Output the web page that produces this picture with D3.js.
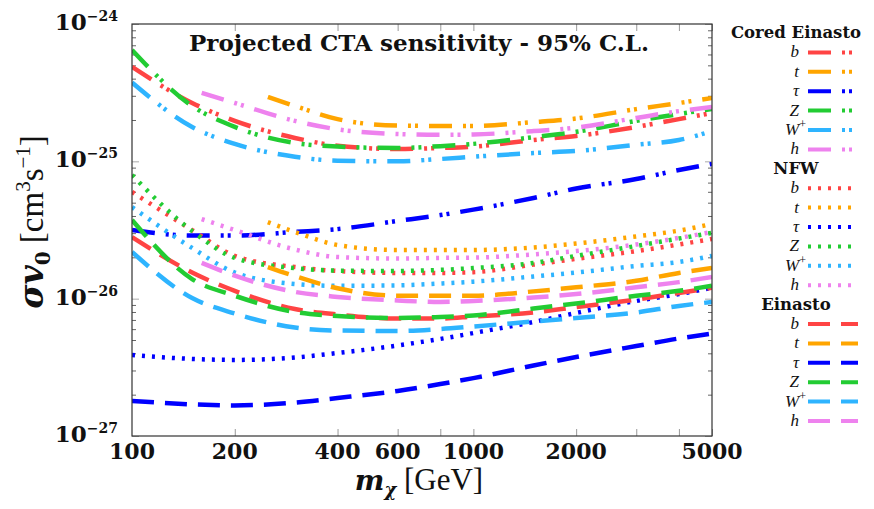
<!DOCTYPE html>
<html>
<head>
<meta charset="utf-8">
<script src="https://cdn.jsdelivr.net/npm/d3@7"></script>
<style>
  body { margin: 0; background: #fff; }
  svg text { font-family: "DejaVu Serif", "Liberation Serif", serif; fill: #111; }
  svg .reg { font-family: "Liberation Serif", "DejaVu Serif", serif; }
</style>
</head>
<body>
<script>

// masses (GeV) the curves were read at
const masses  = [100, 150, 200, 300, 400, 600, 800, 1000, 1500, 2000, 3000, 4000, 5000];
const massesT = [250, 300, 400, 600, 800, 1000, 1500, 2000, 3000, 4000, 5000]; // top channel
const massesH = [160, 200, 300, 400, 600, 800, 1000, 1500, 2000, 3000, 4000, 5000]; // higgs channel

// cored Einasto, <sigma v> in cm^3 s^-1
const coredB   = [4.87e-25, 2.66e-25, 1.97e-25, 1.48e-25, 1.30e-25, 1.23e-25, 1.25e-25, 1.28e-25, 1.43e-25, 1.53e-25, 1.78e-25, 2.03e-25, 2.25e-25];
const coredT   = [2.94e-25, 2.53e-25, 2.03e-25, 1.82e-25, 1.81e-25, 1.81e-25, 1.93e-25, 2.05e-25, 2.40e-25, 2.66e-25, 2.89e-25];
const coredTau = [3.16e-26, 2.88e-26, 2.88e-26, 3.06e-26, 3.21e-26, 3.68e-26, 4.06e-26, 4.45e-26, 5.41e-26, 6.34e-26, 7.43e-26, 8.65e-26, 9.57e-26];
const coredZ   = [6.47e-25, 2.53e-25, 1.78e-25, 1.36e-25, 1.28e-25, 1.25e-25, 1.29e-25, 1.34e-25, 1.50e-25, 1.64e-25, 1.97e-25, 2.21e-25, 2.41e-25];
const coredW   = [3.75e-25, 1.78e-25, 1.34e-25, 1.08e-25, 1.01e-25, 1.00e-25, 1.04e-25, 1.08e-25, 1.15e-25, 1.19e-25, 1.32e-25, 1.43e-25, 1.66e-25];
const coredH   = [3.15e-25, 2.66e-25, 1.97e-25, 1.71e-25, 1.58e-25, 1.56e-25, 1.57e-25, 1.66e-25, 1.76e-25, 2.07e-25, 2.32e-25, 2.49e-25];

// NFW
const nfwB   = [5.98e-26, 3.16e-26, 2.05e-26, 1.70e-26, 1.59e-26, 1.54e-26, 1.54e-26, 1.56e-26, 1.77e-26, 1.95e-26, 2.22e-26, 2.48e-26, 2.72e-26];
const nfwT   = [3.61e-26, 3.06e-26, 2.46e-26, 2.26e-26, 2.26e-26, 2.26e-26, 2.36e-26, 2.52e-26, 2.84e-26, 3.13e-26, 3.50e-26];
const nfwTau = [3.89e-27, 3.64e-27, 3.58e-27, 3.73e-27, 4.02e-27, 4.56e-27, 5.09e-27, 5.62e-27, 6.76e-27, 7.87e-27, 9.62e-27, 1.08e-26, 1.20e-26];
const nfwZ   = [7.94e-26, 3.11e-26, 1.98e-26, 1.67e-26, 1.60e-26, 1.59e-26, 1.62e-26, 1.67e-26, 1.82e-26, 2.05e-26, 2.42e-26, 2.74e-26, 3.01e-26];
const nfwW   = [4.64e-26, 2.34e-26, 1.55e-26, 1.28e-26, 1.24e-26, 1.25e-26, 1.29e-26, 1.33e-26, 1.45e-26, 1.55e-26, 1.73e-26, 1.85e-26, 2.05e-26];
const nfwH   = [3.80e-26, 3.16e-26, 2.28e-26, 2.01e-26, 1.96e-26, 1.98e-26, 1.99e-26, 2.10e-26, 2.22e-26, 2.48e-26, 2.77e-26, 3.06e-26];

// Einasto
const einB   = [2.81e-26, 1.55e-26, 1.14e-26, 8.41e-27, 7.67e-27, 7.16e-27, 7.16e-27, 7.41e-27, 7.93e-27, 8.69e-27, 9.86e-27, 1.10e-26, 1.20e-26];
const einT   = [1.70e-26, 1.46e-26, 1.19e-26, 1.05e-26, 1.05e-26, 1.05e-26, 1.13e-26, 1.21e-26, 1.35e-26, 1.54e-26, 1.67e-26];
const einTau = [1.80e-27, 1.70e-27, 1.67e-27, 1.75e-27, 1.89e-27, 2.13e-27, 2.39e-27, 2.64e-27, 3.26e-27, 3.76e-27, 4.52e-27, 5.13e-27, 5.57e-27];
const einZ   = [3.74e-26, 1.39e-26, 1.05e-26, 8.00e-27, 7.48e-27, 7.23e-27, 7.36e-27, 7.54e-27, 8.48e-27, 9.22e-27, 1.05e-26, 1.14e-26, 1.24e-26];
const einW   = [2.19e-26, 1.01e-26, 7.79e-27, 6.16e-27, 5.86e-27, 5.82e-27, 6.01e-27, 6.27e-27, 6.82e-27, 7.23e-27, 7.93e-27, 8.85e-27, 9.46e-27];
const einH   = [1.82e-26, 1.47e-26, 1.12e-26, 1.03e-26, 9.70e-27, 9.46e-27, 9.62e-27, 1.02e-26, 1.08e-26, 1.21e-26, 1.32e-26, 1.44e-26];

const channels  = ["b", "t", "τ", "Z", "W", "h"];
const chanSup   = ["", "", "", "", "+", ""];
const chanColor = ["#ff4444", "#ffa500", "#0000ff", "#22cc33", "#2eb4ff", "#ee82ee"];
const chanMass  = [masses, massesT, masses, masses, masses, massesH];

const profiles    = ["Cored Einasto", "NFW", "Einasto"];
const profileDash = ["23,11,3,4,3,11", "3,7", "22,11"];
const profileData = [
  [coredB, coredT, coredTau, coredZ, coredW, coredH],
  [nfwB, nfwT, nfwTau, nfwZ, nfwW, nfwH],
  [einB, einT, einTau, einZ, einW, einH]
];

const xTickVals  = [200, 400, 600, 800, 1000, 2000, 3000, 4000, 5000];
const xLabelVals = [100, 200, 400, 600, 1000, 2000, 5000];
const yDecades   = [-27, -26, -25, -24];

const width = 874, height = 509;
const plot = {left: 132, right: 712, top: 24, bottom: 436};

const svg = d3.select("body").append("svg")
    .attr("width", width)
    .attr("height", height);

const x = d3.scaleLog().domain([100, 5000]).range([plot.left, plot.right]);
const y = d3.scaleLog().domain([1e-27, 1e-24]).range([plot.bottom, plot.top]);

svg.append("defs").append("clipPath").attr("id", "clip")
  .append("rect")
    .attr("x", plot.left).attr("y", plot.top)
    .attr("width", plot.right - plot.left).attr("height", plot.bottom - plot.top);

// minor y ticks 2..9 x 10^n
const yMinor = [];
yDecades.slice(0, 3).forEach(e => { for (let k = 2; k <= 9; k++) yMinor.push(k * Math.pow(10, e)); });
const yMajor = yDecades.map(e => Math.pow(10, e));

function tickStyle(g, col) {
  g.select(".domain").remove();
  g.selectAll(".tick line").attr("stroke", col).attr("stroke-width", 1);
  g.selectAll(".tick text").remove();
}

svg.append("g").attr("transform", `translate(${plot.left},0)`)
  .call(d3.axisLeft(y).tickValues(yMinor).tickSize(-4).tickFormat(""))
  .call(g => tickStyle(g, "#666"));
svg.append("g").attr("transform", `translate(${plot.left},0)`)
  .call(d3.axisLeft(y).tickValues(yMajor).tickSize(-7).tickFormat(""))
  .call(g => tickStyle(g, "#aaa"));
svg.append("g").attr("transform", `translate(${plot.right},0)`)
  .call(d3.axisRight(y).tickValues(yMinor).tickSize(-4).tickFormat(""))
  .call(g => tickStyle(g, "#666"));
svg.append("g").attr("transform", `translate(${plot.right},0)`)
  .call(d3.axisRight(y).tickValues(yMajor).tickSize(-7).tickFormat(""))
  .call(g => tickStyle(g, "#aaa"));
svg.append("g").attr("transform", `translate(0,${plot.bottom})`)
  .call(d3.axisBottom(x).tickValues(xTickVals).tickSize(-7).tickFormat(""))
  .call(g => tickStyle(g, "#999"));
svg.append("g").attr("transform", `translate(0,${plot.top})`)
  .call(d3.axisTop(x).tickValues(xTickVals).tickSize(-7).tickFormat(""))
  .call(g => tickStyle(g, "#999"));

// curves
const line = d3.line()
    .x(d => x(d[0]))
    .y(d => y(d[1]))
    .curve(d3.curveMonotoneX);

const curves = svg.append("g").attr("clip-path", "url(#clip)");
profileData.forEach((set, p) => {
  set.forEach((vals, c) => {
    const pts = chanMass[c].map((m, i) => [m, vals[i]]);
    curves.append("path")
      .attr("d", line(pts))
      .attr("fill", "none")
      .attr("stroke", chanColor[c])
      .attr("stroke-width", 4.5)
      .attr("stroke-dasharray", profileDash[p]);
  });
});

// frame
svg.append("rect")
  .attr("x", plot.left).attr("y", plot.top)
  .attr("width", plot.right - plot.left).attr("height", plot.bottom - plot.top)
  .attr("fill", "none").attr("stroke", "#333").attr("stroke-width", 1.2);

// tick labels
svg.append("g").selectAll("text")
  .data(xLabelVals)
  .join("text")
    .attr("x", d => x(d))
    .attr("y", 459)
    .attr("text-anchor", "middle")
    .attr("font-size", 22)
    .attr("font-weight", "bold")
    .text(d => d);

const yl = svg.append("g").selectAll("text")
  .data(yDecades)
  .join("text")
    .attr("x", 118)
    .attr("y", d => y(Math.pow(10, d)) + 6)
    .attr("text-anchor", "end")
    .attr("font-weight", "bold");
yl.append("tspan").attr("font-size", 23).text("10");
yl.append("tspan").attr("font-size", 14).attr("dy", -9).text(d => "−" + (-d));

// title
svg.append("text")
  .attr("x", 419).attr("y", 51)
  .attr("text-anchor", "middle")
  .attr("font-size", 23)
  .attr("font-weight", "bold")
  .text("Projected CTA sensitivity - 95% C.L.");

// axis titles
const xt = svg.append("text")
  .attr("x", 419).attr("y", 490)
  .attr("text-anchor", "middle")
  .attr("font-size", 28);
xt.append("tspan").attr("font-weight", "bold").attr("font-style", "italic").text("m");
xt.append("tspan").attr("font-weight", "bold").attr("font-style", "italic").attr("font-size", 18).attr("dy", 6).text("χ");
xt.append("tspan").attr("class", "reg").attr("font-size", 31).attr("dy", -6).text(" [GeV]");

const yt = svg.append("text")
  .attr("transform", "translate(43,222) rotate(-90)")
  .attr("text-anchor", "middle")
  .attr("font-size", 33);
yt.append("tspan").attr("font-weight", "bold").attr("font-style", "italic").text("σv");
yt.append("tspan").attr("font-weight", "bold").attr("font-size", 20).attr("dy", 7).text("0");
yt.append("tspan").attr("class", "reg").attr("dy", -7).text(" [cm");
yt.append("tspan").attr("class", "reg").attr("font-size", 21).attr("dy", -13).text("3");
yt.append("tspan").attr("class", "reg").attr("dy", 13).text("s");
yt.append("tspan").attr("class", "reg").attr("font-size", 21).attr("dy", -13).text("−1");
yt.append("tspan").attr("class", "reg").attr("dy", 13).text("]");

// legend
const rowH = 19.4, row0 = 33;
const legend = svg.append("g");
profiles.forEach((name, p) => {
  const r0 = p * 7;
  legend.append("text")
    .attr("x", 796).attr("y", row0 + r0 * rowH + 5)
    .attr("text-anchor", "middle")
    .attr("font-size", 16.5)
    .attr("font-weight", "bold")
    .text(name);
  channels.forEach((ch, c) => {
    const yy = row0 + (r0 + 1 + c) * rowH;
    const t = legend.append("text")
      .attr("class", "reg")
      .attr("x", chanSup[c] ? 806 : 799).attr("y", yy + 5)
      .attr("text-anchor", "end")
      .attr("font-size", 17)
      .attr("font-style", "italic");
    t.append("tspan").text(ch);
    if (chanSup[c]) {
      t.append("tspan").attr("font-style", "normal").attr("font-size", 12).attr("dy", -7).text(chanSup[c]);
    }
    legend.append("line")
      .attr("x1", 808).attr("x2", 858)
      .attr("y1", yy).attr("y2", yy)
      .attr("stroke", chanColor[c])
      .attr("stroke-width", 4)
      .attr("stroke-dasharray", profileDash[p]);
  });
});

</script>
</body>
</html>
